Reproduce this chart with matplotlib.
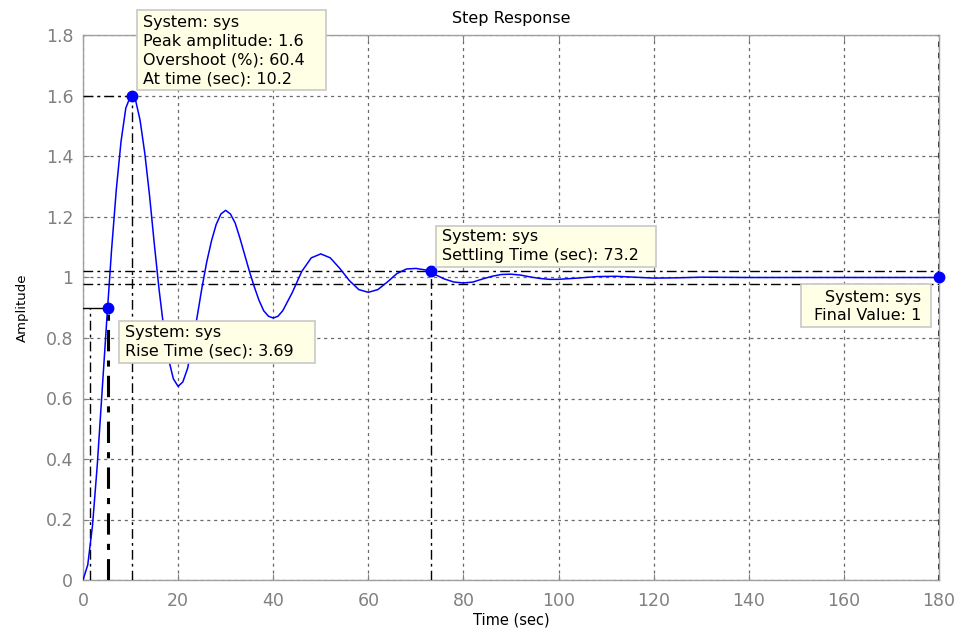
import matplotlib
matplotlib.use("Agg")
import matplotlib.pyplot as plt
from matplotlib.patches import Rectangle

# Step response samples (time in sec, amplitude)
time_s = [0, 1, 2, 3, 4, 5, 6, 7, 8, 9, 10, 11, 12, 13, 14, 15, 16, 17, 18, 19,
          20, 21, 22, 23, 24, 25, 26, 27, 28, 29, 30, 31, 32, 33, 34, 35, 36, 37,
          38, 39, 40, 41, 42, 44, 46, 48, 50, 52, 54, 56, 58, 60, 62, 64, 66, 68,
          70, 72, 74, 76, 78, 80, 82, 84, 86, 88, 90, 92, 94, 96, 98, 100, 104,
          108, 112, 116, 120, 125, 130, 140, 150, 160, 170, 180]
amplitude = [0.0, 0.05, 0.18, 0.38, 0.62, 0.86, 1.09, 1.29, 1.45, 1.56, 1.60,
             1.59, 1.52, 1.41, 1.27, 1.11, 0.96, 0.83, 0.73, 0.665, 0.64, 0.655,
             0.70, 0.78, 0.87, 0.965, 1.05, 1.12, 1.175, 1.21, 1.222, 1.21, 1.18,
             1.13, 1.075, 1.02, 0.97, 0.925, 0.89, 0.872, 0.866, 0.872, 0.89,
             0.95, 1.02, 1.065, 1.078, 1.065, 1.03, 0.99, 0.96, 0.951, 0.96,
             0.985, 1.013, 1.028, 1.03, 1.025, 1.01, 0.995, 0.985, 0.982, 0.985,
             0.995, 1.004, 1.01, 1.011, 1.008, 1.002, 0.997, 0.994, 0.994, 0.998,
             1.003, 1.004, 1.001, 0.998, 0.999, 1.001, 1.0, 1.0, 1.0, 1.0, 1.0]

# Step characteristics
rise_start, rise_end, rise_level = 1.5, 5.2, 0.9
rise_time = 3.69
peak_time, peak_amp, overshoot = 10.2, 1.6, 60.4
settle_time, settle_amp = 73.2, 1.02
band_hi, band_lo = 1.02, 0.98
final_time, final_value = 180, 1

x_ticks = [0, 20, 40, 60, 80, 100, 120, 140, 160, 180]
y_ticks = [0, 0.2, 0.4, 0.6, 0.8, 1.0, 1.2, 1.4, 1.6, 1.8]
y_tick_labels = ["0", "0.2", "0.4", "0.6", "0.8", "1", "1.2", "1.4", "1.6", "1.8"]

W, H = 959, 633
fig = plt.figure(figsize=(W / 100, H / 100), dpi=100)
fig.patch.set_facecolor("white")
ax = fig.add_axes([83 / W, 1 - 580 / H, (939 - 83) / W, (580 - 35.5) / H])

ax.set_xlim(0, 180)
ax.set_ylim(0, 1.8)
ax.set_xticks(x_ticks)
ax.set_yticks(y_ticks)
ax.set_yticklabels(y_tick_labels)
grey = "#808080"
ax.tick_params(direction="in", length=4, colors=grey, labelsize=12.5,
               labelcolor=grey, top=True, right=True)
ax.tick_params(axis="x", pad=9)
ax.tick_params(axis="y", pad=7)
for s in ax.spines.values():
    s.set_color("#a0a0a0")
    s.set_linewidth(1)
ax.grid(True, color="#6a6a6a", linestyle=(0, (2.5, 3)), linewidth=0.9)
ax.set_axisbelow(True)

dashdot = (0, (7, 3, 2, 3))
kw = dict(color="black", linewidth=1, linestyle=dashdot, zorder=3)

# settling band and final value guides
ax.plot([0, 180], [band_hi, band_hi], **kw)
ax.plot([0, 180], [band_lo, band_lo], **kw)
ax.plot([final_time, final_time], [0, 1.8], color="#303030", linewidth=2,
        linestyle=(0, (2, 2)), zorder=3)

# rise time guides
ax.plot([0, rise_end], [rise_level, rise_level], color="black", linewidth=1, zorder=3)
ax.plot([rise_start, rise_start], [0, rise_level], **kw)
ax.plot([rise_end, rise_end], [0, rise_level], color="black", linewidth=2.2,
        linestyle=dashdot, zorder=3)

# peak guides
ax.plot([0, peak_time], [peak_amp, peak_amp], **kw)
ax.plot([peak_time, peak_time], [0, peak_amp], **kw)

# settling guide
ax.plot([settle_time, settle_time], [0, settle_amp], **kw)

# response curve
ax.plot(time_s, amplitude, color="#0000ff", linewidth=1.1, zorder=4)

# characteristic markers
ax.plot([rise_end, peak_time, settle_time, final_time],
        [rise_level, peak_amp, settle_amp, final_value],
        "o", color="#0000ff", markersize=7.5, zorder=5, clip_on=False)

ax.set_title("Step Response", fontsize=11.5, pad=9)
ax.set_ylabel("Amplitude", fontsize=9.5, labelpad=12)
fig.text(511 / W, 1 - 620 / H, "Time (sec)", ha="center", va="center", fontsize=10.5)


def tip(x0, y0, x1, y1, lines, tx, ty, ha="left", step=18.6):
    """Data tip box drawn in image pixel coordinates (origin top-left)."""
    fig.patches.append(Rectangle((x0 / W, 1 - y1 / H), (x1 - x0) / W, (y1 - y0) / H,
                                 transform=fig.transFigure, facecolor="#ffffe6",
                                 edgecolor="#c8c8c8", linewidth=1.2, zorder=10))
    for i, line in enumerate(lines):
        fig.text(tx / W, 1 - (ty + i * step) / H, line, ha=ha, va="center",
                 fontsize=11.5, color="black", zorder=11)


tip(137, 10, 326, 90,
    ["System: sys", f"Peak amplitude: {peak_amp:g}",
     f"Overshoot (%): {overshoot:g}", f"At time (sec): {peak_time:g}"],
    143, 22.7)
tip(119, 321, 315, 363,
    ["System: sys", f"Rise Time (sec): {rise_time:g}"], 125, 332)
tip(436, 226, 656, 267,
    ["System: sys", f"Settling Time (sec): {settle_time:g}"], 442, 237)
tip(801, 284, 931, 327,
    ["System: sys", f"Final Value: {final_value:g}"], 921, 297, ha="right")

fig.savefig("out.png", dpi=100)
